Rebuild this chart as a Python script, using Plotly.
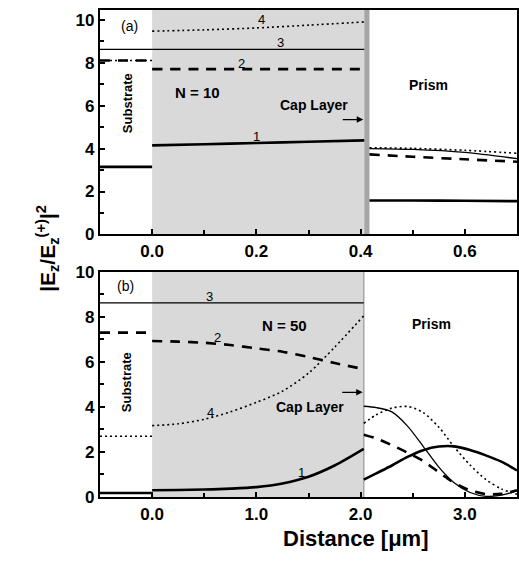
import plotly.graph_objects as go
from plotly.subplots import make_subplots

# ---------------- data: panel (a), N = 10 ----------------
a_sub_x = [-0.1, 0.0]
a_cap_x = [0.0, 0.1, 0.2, 0.3, 0.407]
a_prism_x = [0.417, 0.5, 0.6, 0.7]

a1_sub = [3.15, 3.15]
a1_cap = [4.15, 4.20, 4.26, 4.32, 4.38]
a1_prism = [1.58, 1.58, 1.57, 1.55]

a2_sub = [8.1, 8.1]
a2_cap = [7.7, 7.7, 7.7, 7.7, 7.7]
a2_prism = [3.73, 3.62, 3.50, 3.39]

a3_sub = [8.62, 8.62]
a3_cap = [8.62, 8.62, 8.62, 8.62, 8.62]
a3_prism = [4.00, 3.96, 3.82, 3.53]

a4_sub = [8.1, 8.1]
a4_cap = [9.47, 9.53, 9.62, 9.75, 9.90]
a4_prism = [4.04, 4.01, 3.92, 3.78]

# ---------------- data: panel (b), N = 50 ----------------
b_sub_x = [-0.5, 0.0]
b_cap_x = [0.0, 0.25, 0.5, 0.75, 1.0, 1.25, 1.5, 1.75, 2.03]
b_prism_x = [2.03, 2.15, 2.3, 2.45, 2.6, 2.75, 2.9, 3.05, 3.2, 3.35, 3.5]

b1_sub = [0.18, 0.18]
b1_cap = [0.30, 0.31, 0.33, 0.37, 0.44, 0.60, 0.90, 1.40, 2.14]
b1_prism = [0.77, 1.05, 1.40, 1.78, 2.08, 2.24, 2.25, 2.09, 1.85, 1.57, 1.18]

b2_sub = [7.3, 7.3]
b2_cap = [6.93, 6.90, 6.85, 6.75, 6.60, 6.45, 6.22, 5.95, 5.68]
b2_prism = [2.77, 2.60, 2.30, 1.97, 1.60, 1.10, 0.62, 0.30, 0.13, 0.14, 0.30]

b3_sub = [8.62, 8.62]
b3_cap = [8.62, 8.62, 8.62, 8.62, 8.62, 8.62, 8.62, 8.62, 8.62]
b3_prism = [4.03, 3.97, 3.78, 3.15, 2.25, 1.33, 0.62, 0.20, 0.03, 0.08, 0.27]

b4_sub = [2.7, 2.7]
b4_cap = [3.17, 3.25, 3.45, 3.78, 4.20, 4.70, 5.50, 6.65, 8.05]
b4_prism = [3.27, 3.65, 3.95, 4.02, 3.75, 3.10, 2.21, 1.42, 0.78, 0.36, 0.12]

# tick labels
a_xticks = [0.0, 0.2, 0.4, 0.6]
b_xticks = [0.0, 1.0, 2.0, 3.0]
y_ticks = [0, 2, 4, 6, 8, 10]

# ---------------- figure ----------------
W, H = 519, 569
ML, MR, MT, MB = 100, 0, 5, 72
plot_h = H - MT - MB

def dom(top_px, bot_px):
    return [(H - MB - bot_px) / plot_h, (H - MB - top_px) / plot_h]

fig = make_subplots(rows=2, cols=1)

styles = {
    1: dict(color="black", width=2.6),
    2: dict(color="black", width=2.6, dash="10px,8px"),
    3: dict(color="black", width=1.3),
    4: dict(color="black", width=1.6, dash="2px,3px"),
}

def add_curve(xs, ys, k, row):
    fig.add_trace(go.Scatter(x=xs, y=ys, mode="lines", line=dict(shape="spline", smoothing=0.8, **styles[k]),
                             showlegend=False, hoverinfo="skip"), row=row, col=1)

for k, segs in {
    4: [(a_sub_x, a4_sub), (a_cap_x, a4_cap), (a_prism_x, a4_prism)],
    3: [(a_sub_x, a3_sub), (a_cap_x, a3_cap), (a_prism_x, a3_prism)],
    2: [(a_sub_x, a2_sub), (a_cap_x, a2_cap), (a_prism_x, a2_prism)],
    1: [(a_sub_x, a1_sub), (a_cap_x, a1_cap), (a_prism_x, a1_prism)],
}.items():
    for xs, ys in segs:
        add_curve(xs, ys, k, 1)

for k, segs in {
    4: [(b_sub_x, b4_sub), (b_cap_x, b4_cap), (b_prism_x, b4_prism)],
    3: [(b_sub_x, b3_sub), (b_cap_x, b3_cap), (b_prism_x, b3_prism)],
    2: [(b_sub_x, b2_sub), (b_cap_x, b2_cap), (b_prism_x, b2_prism)],
    1: [(b_sub_x, b1_sub), (b_cap_x, b1_cap), (b_prism_x, b1_prism)],
}.items():
    for xs, ys in segs:
        add_curve(xs, ys, k, 2)

# shaded film regions
fig.add_shape(type="rect", xref="x", yref="y", x0=0.0, x1=0.407, y0=0, y1=10.47,
              fillcolor="#d9d9d9", line_width=0, layer="below")
fig.add_shape(type="rect", xref="x", yref="y", x0=0.407, x1=0.417, y0=0, y1=10.47,
              fillcolor="#a6a6a6", line_width=0, layer="below")
fig.add_shape(type="rect", xref="x2", yref="y2", x0=0.0, x1=2.03, y0=0, y1=10,
              fillcolor="#d9d9d9", line_width=0, layer="below")
fig.add_shape(type="line", xref="x2", yref="y2", x0=2.03, x1=2.03, y0=0, y1=10,
              line=dict(color="#a6a6a6", width=1.5), layer="below")

FONT = "Liberation Sans, Arial, Helvetica, sans-serif"
axis_common = dict(showline=True, linecolor="black", linewidth=2.2, mirror=True,
                   ticks="inside", ticklen=5, tickwidth=1.5, tickcolor="black",
                   showgrid=False, zeroline=False,
                   tickfont=dict(family=FONT, size=17, color="black", weight="bold"))

fig.update_xaxes(range=[-0.1, 0.7], tickvals=a_xticks, tickformat=".1f",
                 minor=dict(dtick=0.1, tick0=0, ticks="inside", ticklen=4, tickcolor="black"),
                 domain=[0, 1], **axis_common, row=1, col=1)
fig.update_xaxes(range=[-0.5, 3.5], tickvals=b_xticks, tickformat=".1f",
                 minor=dict(dtick=0.5, tick0=0, ticks="inside", ticklen=4, tickcolor="black"),
                 domain=[0, 1], **axis_common, row=2, col=1)
fig.update_yaxes(range=[0, 10.47], tickvals=y_ticks,
                 minor=dict(dtick=1, tick0=0, ticks="inside", ticklen=4, tickcolor="black"),
                 domain=dom(5.7, 232.3), **axis_common, row=1, col=1)
fig.update_yaxes(range=[0, 10], tickvals=y_ticks,
                 minor=dict(dtick=1, tick0=0, ticks="inside", ticklen=4, tickcolor="black"),
                 domain=dom(270, 497), **axis_common, row=2, col=1)

def txt(x, y, text, ref, size=14, bold=True, angle=0):
    fig.add_annotation(x=x, y=y, xref="x" + ref, yref="y" + ref, text=text, showarrow=False,
                       textangle=angle,
                       font=dict(family=FONT, size=size, color="black", weight="bold" if bold else "normal"))

# panel (a) labels
txt(-0.044, 9.7, "(a)", "", 14, False)
txt(0.087, 6.6, "N = 10", "", 15)
txt(-0.047, 6.1, "Substrate", "", 13, True, -90)
txt(0.31, 6.05, "Cap Layer", "", 14)
txt(0.53, 6.97, "Prism", "", 14)
txt(0.2, 4.55, "1", "", 13, False)
txt(0.172, 7.97, "2", "", 13, False)
txt(0.246, 8.95, "3", "", 13, False)
txt(0.21, 10.0, "4", "", 13, False)
fig.add_annotation(x=0.405, y=5.35, xref="x", yref="y", ax=-22, ay=0, text="", showarrow=True,
                   arrowhead=2, arrowsize=1, arrowwidth=1.3, arrowcolor="black")

# panel (b) labels
txt(-0.26, 9.36, "(b)", "2", 14, False)
txt(1.27, 7.6, "N = 50", "2", 15)
txt(-0.25, 5.1, "Substrate", "2", 13, True, -90)
txt(1.51, 4.0, "Cap Layer", "2", 14)
txt(2.68, 7.67, "Prism", "2", 14)
txt(1.43, 1.11, "1", "2", 13, False)
txt(0.63, 7.1, "2", "2", 13, False)
txt(0.55, 8.92, "3", "2", 13, False)
txt(0.56, 3.76, "4", "2", 13, False)
fig.add_annotation(x=2.02, y=4.65, xref="x2", yref="y2", ax=-22, ay=0, text="", showarrow=True,
                   arrowhead=2, arrowsize=1, arrowwidth=1.3, arrowcolor="black")

# axis titles
fig.add_annotation(x=(30 - ML) / (W - ML - MR), y=(H - MB - 246) / plot_h, xref="paper", yref="paper",
                   text="|E<sub>z</sub>/E<sub>z</sub><sup>(+)</sup>|<sup>2</sup>", textangle=-90,
                   showarrow=False, font=dict(family=FONT, size=21, color="black", weight="bold"))
fig.add_annotation(x=(433 - ML) / (W - ML - MR), y=(H - MB - 553) / plot_h, xref="paper", yref="paper",
                   text="Distance [μm]", showarrow=False,
                   font=dict(family=FONT, size=22, color="black", weight="bold"))

fig.update_layout(width=W, height=H, margin=dict(l=ML, r=MR, t=MT, b=MB),
                  paper_bgcolor="white", plot_bgcolor="white", showlegend=False)

fig.write_html("out.html", config={"displayModeBar": False},
               post_script="document.body.style.margin='0';document.body.style.overflow='hidden';")
